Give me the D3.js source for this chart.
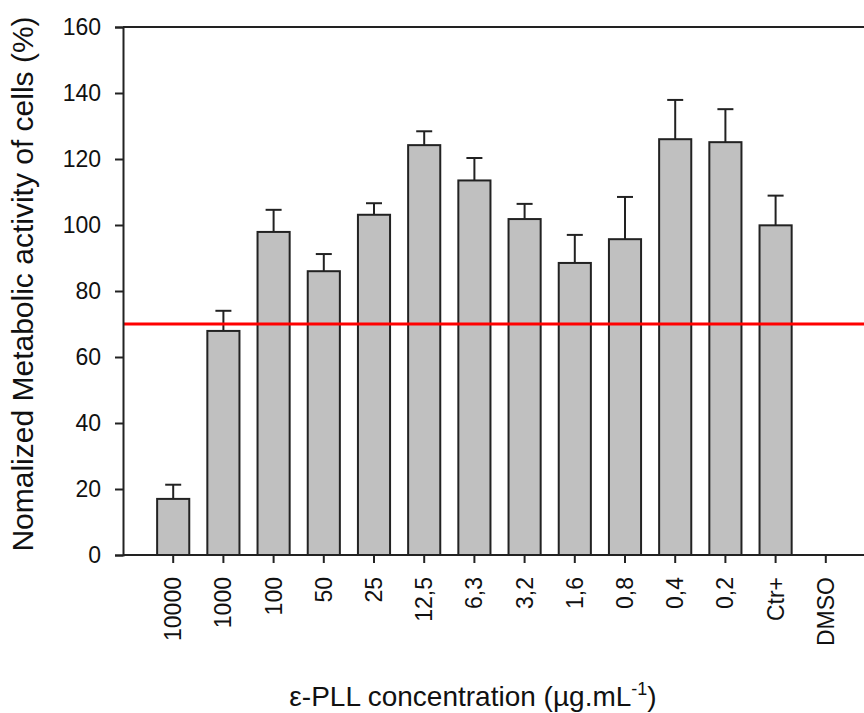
<!DOCTYPE html>
<html>
<head>
<meta charset="utf-8">
<script src="https://cdn.jsdelivr.net/npm/d3@7"></script>
<style>
  body { margin: 0; background: #fff; }
  svg { display: block; font-family: "Liberation Sans", Arial, sans-serif; }
</style>
</head>
<body>
<svg id="chart" width="864" height="713"></svg>
<script>
"use strict";

// concentrations (µg/mL) + controls
const categories = ["10000", "1000", "100", "50", "25", "12,5", "6,3", "3,2", "1,6", "0,8", "0,4", "0,2", "Ctr+", "DMSO"];
// mean normalized metabolic activity (%)
const means = [17.0, 67.9, 97.9, 86.0, 103.1, 124.2, 113.5, 101.8, 88.5, 95.7, 126.0, 125.1, 99.9, null];
// top of the error bar (%)
const errTops = [21.3, 74.0, 104.6, 91.2, 106.6, 128.4, 120.3, 106.4, 97.0, 108.5, 137.9, 135.1, 108.9, null];
const yTicks = [0, 20, 40, 60, 80, 100, 120, 140, 160];
const threshold = 70;

(function() {
  const svg = d3.select("#chart");
  const left = 123, top = 27, bottom = 555;
  const step = 50.2;
  const right = left + step * (categories.length + 1);
  const font = "'Liberation Sans', Arial, sans-serif";

  const x = d3.scaleBand()
    .domain(categories)
    .range([left + step / 2, right - step / 2])
    .paddingInner(0.36)
    .paddingOuter(0.18);

  const y = d3.scaleLinear()
    .domain([0, 160])
    .range([bottom, top]);

  const data = categories.map((c, i) => ({ cat: c, v: means[i], e: errTops[i] }))
    .filter(d => d.v != null);

  // error bars (drawn first so the bar outline covers the stem base)
  const capW = 8;
  const eb = svg.append("g").attr("stroke", "#222").attr("stroke-width", 2);
  eb.selectAll("line.stem")
    .data(data)
    .enter().append("line")
      .attr("class", "stem")
      .attr("x1", d => x(d.cat) + x.bandwidth() / 2)
      .attr("x2", d => x(d.cat) + x.bandwidth() / 2)
      .attr("y1", d => y(d.v))
      .attr("y2", d => y(d.e));
  eb.selectAll("line.cap")
    .data(data)
    .enter().append("line")
      .attr("class", "cap")
      .attr("x1", d => x(d.cat) + x.bandwidth() / 2 - capW)
      .attr("x2", d => x(d.cat) + x.bandwidth() / 2 + capW)
      .attr("y1", d => y(d.e))
      .attr("y2", d => y(d.e));

  // bars
  svg.append("g").selectAll("rect")
    .data(data)
    .enter().append("rect")
      .attr("x", d => x(d.cat))
      .attr("y", d => y(d.v))
      .attr("width", x.bandwidth())
      .attr("height", d => y(0) - y(d.v))
      .attr("fill", "#c0c0c0")
      .attr("stroke", "#222")
      .attr("stroke-width", 2);

  // 70% viability line
  svg.append("line")
    .attr("x1", left).attr("x2", right)
    .attr("y1", y(threshold)).attr("y2", y(threshold))
    .attr("stroke", "#ff0000")
    .attr("stroke-width", 3);

  // frame
  svg.append("line")
    .attr("x1", left).attr("x2", right)
    .attr("y1", top).attr("y2", top)
    .attr("stroke", "#222").attr("stroke-width", 2);

  // y axis
  const yAxis = svg.append("g")
    .attr("transform", "translate(" + left + ",0)")
    .call(d3.axisLeft(y).tickValues(yTicks).tickSize(8).tickPadding(14));
  yAxis.select(".domain").attr("stroke", "#222").attr("stroke-width", 2);
  yAxis.selectAll(".tick line").attr("stroke", "#222").attr("stroke-width", 2);
  yAxis.selectAll(".tick text")
    .attr("font-size", 23)
    .attr("fill", "#111")
    .style("font-family", font);

  // x axis
  const xAxis = svg.append("g")
    .attr("transform", "translate(0," + bottom + ")")
    .call(d3.axisBottom(x).tickSize(8).tickSizeOuter(0));
  xAxis.select(".domain")
    .attr("d", "M" + left + ",0H" + right)
    .attr("stroke", "#222").attr("stroke-width", 2);
  xAxis.selectAll(".tick line").attr("stroke", "#222").attr("stroke-width", 2);
  xAxis.selectAll(".tick text")
    .attr("font-size", 23)
    .attr("fill", "#111")
    .style("font-family", font)
    .attr("transform", "rotate(-90)")
    .attr("text-anchor", "end")
    .attr("dy", "0.35em")
    .attr("x", -22)
    .attr("y", 0);

  // axis titles
  svg.append("text")
    .attr("transform", "translate(33," + 284 + ") rotate(-90)")
    .attr("text-anchor", "middle")
    .attr("font-size", 30)
    .attr("fill", "#111")
    .text("Nomalized Metabolic activity of cells (%)");

  const xt = svg.append("text")
    .attr("x", 473)
    .attr("y", 706)
    .attr("text-anchor", "middle")
    .attr("font-size", 28)
    .attr("fill", "#111");
  xt.append("tspan").text("ε-PLL concentration (µg.mL");
  xt.append("tspan").attr("dy", -11).attr("font-size", 18).text("-1");
  xt.append("tspan").attr("dy", 11).text(")");
})();
</script>
</body>
</html>
